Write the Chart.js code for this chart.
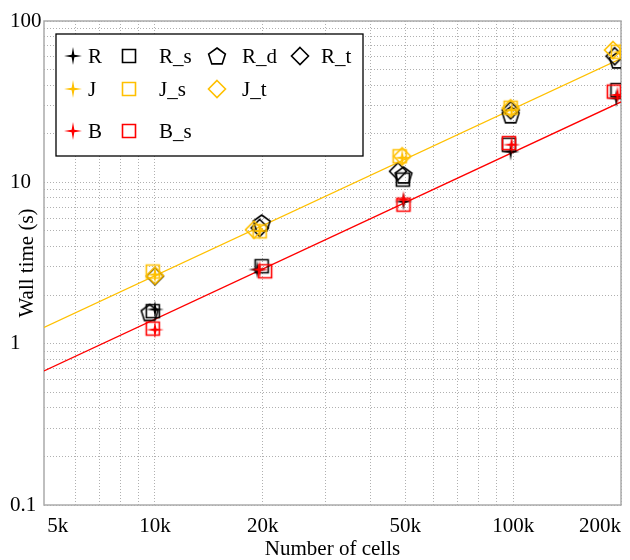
<!DOCTYPE html>
<html>
<head>
<meta charset="utf-8">
<script src="https://cdn.jsdelivr.net/npm/chart.js@4"></script>
<style>
  html, body { margin: 0; padding: 0; background: #fff; }
  #wrap { width: 630px; height: 560px; }
</style>
</head>
<body>
<div id="wrap"><canvas id="chart" width="630" height="560"></canvas></div>
<script>
// values (cells, wall time in s)
const cellsR  = [10000, 19300, 49400, 98400, 194000];
const timeR   = [1.63, 2.88, 7.6, 15.5, 33.2];
const cellsRs = [9860, 19850, 49200, 97300, 195500];
const timeRs  = [1.59, 3.02, 10.4, 17.1, 37.3];
const cellsRd = [9660, 19850, 49400, 98400, 196000];
const timeRd  = [1.56, 5.6, 11.1, 26.2, 57.3];
const cellsRt = [10000, 19600, 47700, 98400, 192000];
const timeRt  = [2.62, 5.22, 11.7, 28.0, 60.5];
const cellsJ  = [10000, 19600, 49000, 99000, 199000];
const timeJ   = [2.68, 5.0, 14.2, 28.1, 64.0];
const cellsJs = [9860, 19600, 48200, 98400, 196000];
const timeJs  = [2.8, 4.97, 14.5, 29.0, 64.5];
const cellsJt = [10000, 18900, 49000, 98400, 190000];
const timeJt  = [2.64, 5.09, 14.5, 28.8, 66.1];
const cellsB  = [10000, 19600, 49400, 99000, 195500];
const timeB   = [1.22, 2.88, 7.8, 17.1, 34.8];
const cellsBs = [9860, 20300, 49400, 97300, 191000];
const timeBs  = [1.24, 2.81, 7.27, 17.5, 36.5];

// fitted trend lines (end points at the axis limits)
const fitCells = [4900, 200000];
const fitJ     = [1.26, 58.5];
const fitB     = [0.677, 31.5];

const xGridValues = [5000, 6000, 7000, 8000, 9000, 10000, 20000, 30000, 40000, 50000,
                     60000, 70000, 80000, 90000, 100000, 200000];
const xTickValues = [5000, 10000, 20000, 50000, 100000, 200000];
const xTickLabels = ['5k', '10k', '20k', '50k', '100k', '200k'];
const yGridValues = [0.1, 0.2, 0.3, 0.4, 0.5, 0.6, 0.7, 0.8, 0.9,
                     1, 2, 3, 4, 5, 6, 7, 8, 9,
                     10, 20, 30, 40, 50, 60, 70, 80, 90, 100];
const yTickValues = [0.1, 1, 10, 100];
const yTickLabels = ['0.1', '1', '10', '100'];

const BLACK = '#000000';
const GOLD = '#ffc000';
const RED = '#ff0000';
const SERIF = "'Liberation Serif', 'Times New Roman', serif";

function makeMarker(shape, color) {
    const c = document.createElement('canvas');
    c.width = 22; c.height = 22;
    const g = c.getContext('2d');
    g.translate(11, 11);
    g.strokeStyle = color;
    g.fillStyle = color;
    g.lineWidth = 1.6;
    g.beginPath();
    if (shape === 'star') {
        for (let k = 0; k < 8; k++) {
            const a = -Math.PI / 2 + k * Math.PI / 4;
            const r = k % 2 === 0 ? 9 : 1.9;
            g.lineTo(r * Math.cos(a), r * Math.sin(a));
        }
        g.closePath();
        g.fill();
    } else if (shape === 'square') {
        g.rect(-6.5, -6.5, 13, 13);
        g.stroke();
    } else if (shape === 'diamond') {
        g.moveTo(0, -8.5); g.lineTo(8.5, 0); g.lineTo(0, 8.5); g.lineTo(-8.5, 0);
        g.closePath();
        g.stroke();
    } else if (shape === 'pentagon') {
        for (let k = 0; k < 5; k++) {
            const a = -Math.PI / 2 + k * 2 * Math.PI / 5;
            g.lineTo(8.8 * Math.cos(a), 8.8 * Math.sin(a) + 0.8);
        }
        g.closePath();
        g.stroke();
    }
    return c;
}

function pts(xs, ys) {
    return xs.map((x, i) => ({ x: x, y: ys[i] }));
}

const series = [
    { label: 'R',   xs: cellsR,  ys: timeR,  marker: makeMarker('star', BLACK) },
    { label: 'R_s', xs: cellsRs, ys: timeRs, marker: makeMarker('square', BLACK) },
    { label: 'R_d', xs: cellsRd, ys: timeRd, marker: makeMarker('pentagon', BLACK) },
    { label: 'R_t', xs: cellsRt, ys: timeRt, marker: makeMarker('diamond', BLACK) },
    { label: 'J',   xs: cellsJ,  ys: timeJ,  marker: makeMarker('star', GOLD) },
    { label: 'J_s', xs: cellsJs, ys: timeJs, marker: makeMarker('square', GOLD) },
    { label: 'J_t', xs: cellsJt, ys: timeJt, marker: makeMarker('diamond', GOLD) },
    { label: 'B',   xs: cellsB,  ys: timeB,  marker: makeMarker('star', RED) },
    { label: 'B_s', xs: cellsBs, ys: timeBs, marker: makeMarker('square', RED) }
];

// legend layout: rows of series labels
const legendRows = [['R', 'R_s', 'R_d', 'R_t'], ['J', 'J_s', 'J_t'], ['B', 'B_s']];
const legendMarkerX = [73, 129, 217, 300];
const legendTextX = [88, 159, 242, 321];
const legendRowY = [56, 89, 131];

const datasets = [
    {
        type: 'line', label: 'fit J', data: pts(fitCells, fitJ),
        borderColor: GOLD, borderWidth: 1.3, pointRadius: 0, fill: false, order: 20
    },
    {
        type: 'line', label: 'fit B', data: pts(fitCells, fitB),
        borderColor: RED, borderWidth: 1.3, pointRadius: 0, fill: false, order: 20
    }
];
series.forEach((s, i) => {
    datasets.push({
        type: 'scatter', label: s.label, data: pts(s.xs, s.ys),
        pointStyle: s.marker, pointRadius: 8, showLine: false, order: 10 - i
    });
});

const framePlugin = {
    id: 'frame',
    beforeDatasetsDraw(chart) {
        const { ctx, chartArea: a } = chart;
        ctx.save();
        ctx.strokeStyle = '#ababab';
        ctx.lineWidth = 1.5;
        ctx.strokeRect(a.left, a.top, a.right - a.left, a.bottom - a.top);
        ctx.restore();
    }
};

const legendPlugin = {
    id: 'gridLegend',
    afterDatasetsDraw(chart) {
        const ctx = chart.ctx;
        ctx.save();
        ctx.fillStyle = '#fff';
        ctx.fillRect(56, 34, 307, 122);
        ctx.strokeStyle = '#000';
        ctx.lineWidth = 1.3;
        ctx.strokeRect(56, 34, 307, 122);
        ctx.font = '21px ' + SERIF;
        ctx.fillStyle = '#000';
        ctx.textBaseline = 'middle';
        ctx.textAlign = 'left';
        legendRows.forEach((row, r) => {
            row.forEach((name, c) => {
                const s = series.find(d => d.label === name);
                ctx.drawImage(s.marker, legendMarkerX[c] - 11, legendRowY[r] - 11);
                ctx.fillText(name, legendTextX[c], legendRowY[r] + 1);
            });
        });
        ctx.restore();
    }
};

const gridStyle = {
    color: ctx => (ctx.tick && ctx.tick.value === 5000) ? 'rgba(0,0,0,0)' : '#b0b0b0',
    lineWidth: 1,
    drawTicks: false
};

new Chart(document.getElementById('chart'), {
    data: { datasets: datasets },
    plugins: [framePlugin, legendPlugin],
    options: {
        responsive: false,
        animation: false,
        layout: { padding: { left: 10, top: 21, right: 3, bottom: 0 } },
        plugins: { legend: { display: false }, tooltip: { enabled: false } },
        scales: {
            x: {
                type: 'logarithmic',
                min: 4900,
                max: 200000,
                afterBuildTicks: scale => { scale.ticks = xGridValues.map(v => ({ value: v })); },
                afterFit: scale => { scale.height = 55; },
                grid: gridStyle,
                border: { display: false, dash: [1, 2] },
                ticks: {
                    autoSkip: false, maxRotation: 0, minRotation: 0,
                    align: 'inner', padding: 9, color: '#000',
                    font: { family: SERIF, size: 21 },
                    callback: v => {
                        const i = xTickValues.indexOf(v);
                        return i >= 0 ? xTickLabels[i] : '';
                    }
                },
                title: {
                    display: true, text: 'Number of cells', color: '#000',
                    font: { family: SERIF, size: 21, lineHeight: 1.0 }, padding: 0
                }
            },
            y: {
                type: 'logarithmic',
                min: 0.1,
                max: 100,
                afterBuildTicks: scale => { scale.ticks = yGridValues.map(v => ({ value: v })); },
                afterFit: scale => { scale.width = 34; },
                grid: gridStyle,
                border: { display: false, dash: [1, 2] },
                ticks: {
                    autoSkip: false, crossAlign: 'far', color: '#000',
                    font: { family: SERIF, size: 21 },
                    callback: v => {
                        const i = yTickValues.indexOf(v);
                        return i >= 0 ? yTickLabels[i] : '';
                    }
                },
                title: {
                    display: true, text: 'Wall time (s)', color: '#000',
                    font: { family: SERIF, size: 21 }, padding: { top: 5, bottom: 0 }
                }
            }
        }
    }
});
</script>
</body>
</html>
